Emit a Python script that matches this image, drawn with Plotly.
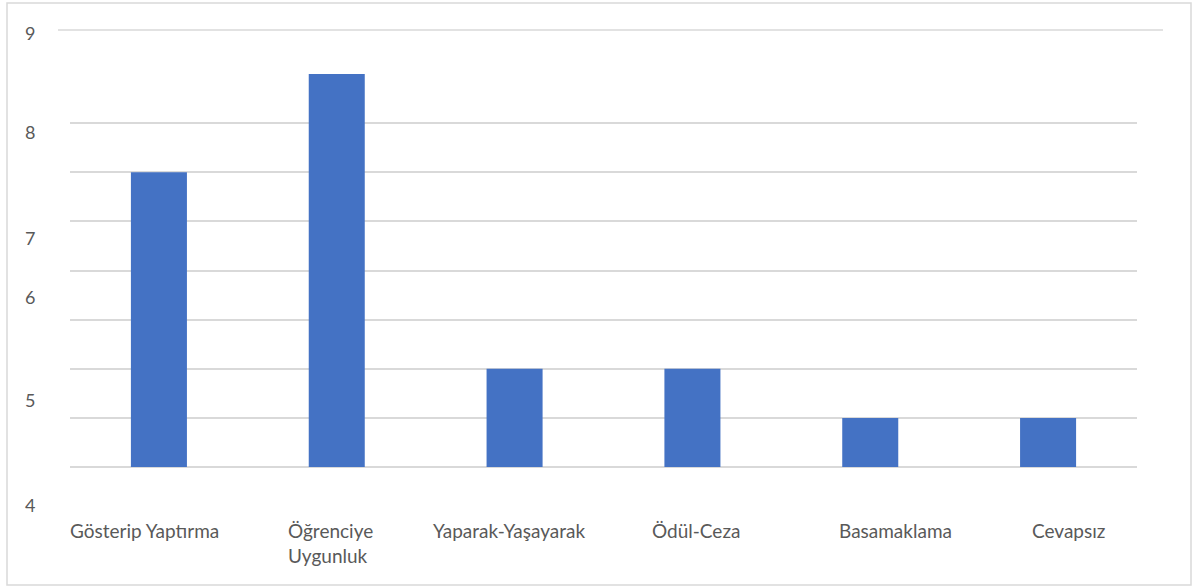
import plotly.graph_objects as go

categories = ["Gösterip Yaptırma", "Öğrenciye<br>Uygunluk", "Yaparak-Yaşayarak",
              "Ödül-Ceza", "Basamaklama", "Cevapsız"]
values = [6, 8, 2, 2, 1, 1]
y_tick_labels = ["9", "8", "7", "6", "5", "5", "4"]

# layout-only helpers (pixel positions of the odd y labels / x label offsets)
W, H = 1195, 587
L, R, T, B = 70, 58, 74, 120
plot_h = H - T - B
plot_w = W - L - R
ylab_px = [33, 132, 238, 297, 400, 400, 505]
xlab_shift = [-14, -6, -6, 4, 25, 20]

fig = go.Figure(go.Bar(x=list(range(len(categories))), y=values,
                       marker=dict(color="#4472C4", line=dict(width=0)),
                       width=0.315))

ann = []
seen = set()
for t, py in zip(y_tick_labels, ylab_px):
    if (t, py) in seen:
        continue
    seen.add((t, py))
    ann.append(dict(text=t, x=-40 / plot_w, y=(H - B - py) / plot_h,
                    xref="paper", yref="paper", showarrow=False,
                    xanchor="center", yanchor="middle",
                    font=dict(size=18, color="#595959", family="Lato")))
for i, (c, s) in enumerate(zip(categories, xlab_shift)):
    ann.append(dict(text=c, x=i, y=0, xref="x", yref="paper", showarrow=False,
                    xanchor="center", yanchor="top", xshift=s, yshift=-50,
                    align="left",
                    font=dict(size=19, color="#595959", family="Lato")))

fig.update_layout(
    width=W, height=H,
    margin=dict(l=L, r=R, t=T, b=B),
    paper_bgcolor="white", plot_bgcolor="white",
    showlegend=False,
    bargap=0.685,
    xaxis=dict(range=[-0.5, 5.5], showticklabels=False, showgrid=False,
               zeroline=False, showline=False, ticks=""),
    yaxis=dict(range=[0, 8], dtick=1, showticklabels=False, showgrid=True,
               gridcolor="#d9d9d9", gridwidth=1.5, zeroline=True,
               zerolinecolor="#d9d9d9", zerolinewidth=1.5, showline=False),
    annotations=ann,
    shapes=[
        dict(type="line", xref="paper", yref="paper",
             x0=(58 - L) / plot_w, x1=(1163 - L) / plot_w,
             y0=(H - B - 30) / plot_h, y1=(H - B - 30) / plot_h,
             line=dict(color="#d9d9d9", width=1.5)),
        dict(type="rect", xref="paper", yref="paper",
             x0=(7 - L) / plot_w, x1=(1191 - L) / plot_w,
             y0=(H - B - 585) / plot_h, y1=(H - B - 3) / plot_h,
             line=dict(color="#d9d9d9", width=1.5), layer="below"),
    ],
)

fig.write_html("out.html", config={"displayModeBar": False},
               post_script="document.body.style.margin='0';document.body.style.overflow='hidden';")
